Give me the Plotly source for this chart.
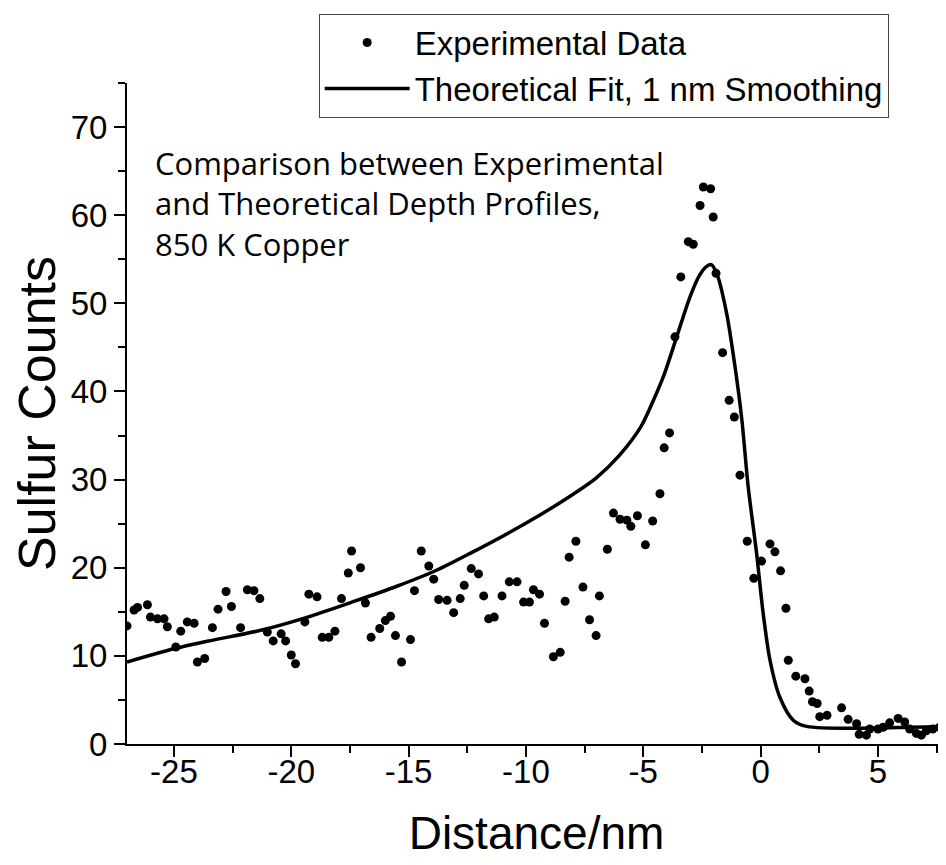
import plotly.graph_objs as go

# experimental depth profile
exp_x = [-27.0, -26.7, -26.55, -26.13, -26.0, -25.7, -25.42, -25.28, -24.92, -24.71,
         -24.43, -24.14, -24.0, -23.69, -23.36, -23.12, -22.78, -22.55, -22.16, -21.87,
         -21.59, -21.34, -21.02, -20.77, -20.43, -20.24, -20.0, -19.82, -19.42, -19.25,
         -18.9, -18.68, -18.4, -18.14, -17.86, -17.57, -17.43, -17.05, -16.84, -16.6,
         -16.23, -15.99, -15.77, -15.56, -15.3, -14.92, -14.75, -14.46, -14.14, -13.93,
         -13.72, -13.36, -13.08, -12.8, -12.63, -12.33, -12.02, -11.8, -11.59, -11.35,
         -11.02, -10.71, -10.38, -10.1, -9.85, -9.68, -9.42, -9.21, -8.83, -8.54,
         -8.33, -8.16, -7.87, -7.57, -7.29, -7.01, -6.87, -6.53, -6.27, -5.99,
         -5.70, -5.53, -5.25, -4.91, -4.6, -4.29, -4.11, -3.88, -3.65, -3.40,
         -3.08, -2.87, -2.58, -2.44, -2.13, -2.02, -1.90, -1.62, -1.34, -1.12,
         -0.88, -0.57, -0.29, 0.04, 0.40, 0.61, 0.85, 1.08, 1.18, 1.50,
         1.89, 2.07, 2.21, 2.41, 2.52, 2.83, 3.45, 3.73, 4.09, 4.2,
         4.51, 4.65, 5.0, 5.22, 5.5, 5.86, 6.14, 6.35, 6.64, 6.85,
         7.06, 7.34, 7.63]
exp_y = [13.4, 15.2, 15.5, 15.8, 14.4, 14.2, 14.2, 13.3, 11.0, 12.8,
         13.85, 13.7, 9.3, 9.7, 13.2, 15.3, 17.3, 15.6, 13.2, 17.5,
         17.4, 16.5, 12.7, 11.7, 12.5, 11.7, 10.1, 9.1, 13.85, 17.0,
         16.7, 12.1, 12.1, 12.8, 16.5, 19.4, 21.9, 20.0, 16.0, 12.1,
         13.1, 14.0, 14.5, 12.3, 9.3, 11.85, 17.4, 21.9, 20.2, 18.7,
         16.4, 16.3, 14.9, 16.5, 18.0, 19.9, 19.3, 16.8, 14.2, 14.4,
         16.8, 18.4, 18.4, 16.1, 16.1, 17.5, 17.0, 13.7, 9.9, 10.4,
         16.2, 21.2, 23.0, 17.8, 14.1, 12.3, 16.8, 22.1, 26.2, 25.5,
         25.4, 24.7, 25.9, 22.6, 25.3, 28.4, 33.6, 35.3, 46.2, 53.0,
         57.0, 56.7, 61.1, 63.2, 63.0, 59.8, 53.4, 44.4, 39.0, 37.1,
         30.5, 23.0, 18.8, 20.75, 22.7, 21.8, 19.65, 15.4, 9.5, 7.7,
         7.4, 6.0, 4.8, 4.6, 3.1, 3.25, 4.1, 2.8, 2.3, 1.1,
         1.0, 1.7, 1.7, 1.9, 2.4, 2.9, 2.5, 1.7, 1.2, 1.0,
         1.5, 1.7, 1.9]

# theoretical fit, 1 nm smoothing
fit_x = [-27, -25, -23.5, -21.3, -19.3, -17.3, -15.5, -13.9, -12.4, -10.1,
         -8.3, -7, -6, -5.1, -4.6, -4.1, -3.6, -3.0, -2.6, -2.3, -2.1, -1.87,
         -1.45, -1.09, -0.8, -0.53, -0.17, 0.11, 0.4, 0.82, 1.39, 1.96, 7.9]
fit_y = [9.3, 10.8, 11.7, 12.9, 14.4, 16.2, 17.9, 19.6, 21.6, 24.9,
         27.8, 30.2, 32.8, 36.0, 38.8, 42.0, 46.0, 50.8, 53.2, 54.2, 54.4, 53.4,
         48.9, 42.8, 36.8, 29.2, 21.6, 14.8, 9.5, 5.3, 2.7, 2.0, 2.0]

x_ticks = [-25, -20, -15, -10, -5, 0, 5]
x_labels = ['-25', '-20', '-15', '-10', '-5', '0', '5']
y_ticks = [0, 10, 20, 30, 40, 50, 60, 70]

font = 'Liberation Sans, Arial, sans-serif'

fig = go.Figure([
    go.Scatter(
        name='Experimental Data',
        x=exp_x,
        y=exp_y,
        mode='markers',
        marker=dict(color='black', size=9)
    ),
    go.Scatter(
        name='Theoretical Fit, 1 nm Smoothing',
        x=fit_x,
        y=fit_y,
        mode='lines',
        line=dict(color='black', width=3.5, shape='spline', smoothing=0.8)
    ),
])

axis_style = dict(
    showline=True, linecolor='black', linewidth=2,
    ticks='outside', ticklen=11, tickwidth=2, tickcolor='black',
    showgrid=False, zeroline=False, automargin=False,
    tickfont=dict(family=font, size=33, color='black'),
)

# page body adds an 8px offset, so the figure is sized to fit inside the window
fig.update_layout(
    width=938, height=857,
    margin=dict(l=119, r=0, t=75, b=121),
    plot_bgcolor='white', paper_bgcolor='white',
    xaxis=dict(range=[-27, 7.9], tickvals=x_ticks, ticktext=x_labels, ticklabelstandoff=-14,
               minor=dict(dtick=2.5, tick0=0, ticklen=7, tickwidth=2, tickcolor='black', ticks='outside'),
               title=dict(text='Distance/nm', font=dict(family=font, size=46, color='black'), standoff=28),
               **axis_style),
    yaxis=dict(range=[0, 75], tickvals=y_ticks,
               minor=dict(dtick=5, tick0=0, ticklen=7, tickwidth=2, tickcolor='black', ticks='outside'),
               title=dict(text='Sulfur Counts', font=dict(family=font, size=52, color='black'), standoff=8),
               **axis_style),
    legend=dict(x=0.93, y=1.105, xanchor='right', yanchor='top',
                bgcolor='white', bordercolor='#444', borderwidth=1,
                font=dict(family=font, size=33, color='black'),
                itemwidth=85, tracegroupgap=0),
    showlegend=True,
)

fig.add_annotation(
    x=-25.9, y=68.5, xref='x', yref='y', xanchor='left', yanchor='top',
    text='Comparison between Experimental<br>and Theoretical Depth Profiles,<br>850 K Copper',
    showarrow=False, align='left',
    font=dict(family='Open Sans, Noto Sans, sans-serif', size=31, color='black'),
)

fig.write_html("out.html")
